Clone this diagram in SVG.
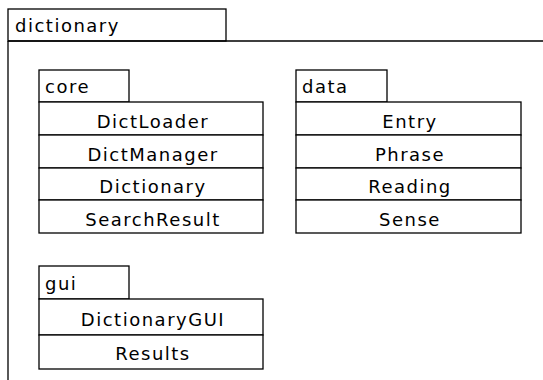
<svg xmlns="http://www.w3.org/2000/svg" width="543" height="380" viewBox="0 0 543 380">
  <style>
    .box { fill: #ffffff; stroke: #000000; stroke-width: 1.3; }
    .line { fill: none; stroke: #000000; stroke-width: 1.3; }
    text { font-family: "DejaVu Sans", "Open Sans", sans-serif; font-size: 18px; fill: #000000; letter-spacing: 1.5px; }
    .c { text-anchor: middle; }
  </style>
  <rect width="543" height="380" fill="#ffffff"/>

  <!-- outer package: dictionary -->
  <g id="pkg-dictionary">
    <rect class="box" x="8" y="9" width="218" height="32"/>
    <text x="15" y="32">dictionary</text>
    <path class="line" d="M8,41 H543 M8,41 V380"/>
  </g>

  <!-- package: core -->
  <g id="pkg-core">
    <rect class="box" x="39" y="70" width="90" height="32"/>
    <text x="45" y="93">core</text>
    <rect class="box" x="39" y="102" width="224" height="33"/>
    <text class="c" x="153" y="128">DictLoader</text>
    <rect class="box" x="39" y="135" width="224" height="33"/>
    <text class="c" x="153" y="161">DictManager</text>
    <rect class="box" x="39" y="168" width="224" height="32"/>
    <text class="c" x="153" y="193">Dictionary</text>
    <rect class="box" x="39" y="200" width="224" height="33"/>
    <text class="c" x="153" y="226">SearchResult</text>
  </g>

  <!-- package: data -->
  <g id="pkg-data">
    <rect class="box" x="296" y="70" width="91" height="32"/>
    <text x="302" y="93">data</text>
    <rect class="box" x="296" y="102" width="225" height="33"/>
    <text class="c" x="410" y="128">Entry</text>
    <rect class="box" x="296" y="135" width="225" height="33"/>
    <text class="c" x="410" y="161">Phrase</text>
    <rect class="box" x="296" y="168" width="225" height="32"/>
    <text class="c" x="410" y="193">Reading</text>
    <rect class="box" x="296" y="200" width="225" height="33"/>
    <text class="c" x="410" y="226">Sense</text>
  </g>

  <!-- package: gui -->
  <g id="pkg-gui">
    <rect class="box" x="39" y="266" width="90" height="33"/>
    <text x="45" y="290">gui</text>
    <rect class="box" x="39" y="299" width="224" height="36"/>
    <text class="c" x="153" y="326">DictionaryGUI</text>
    <rect class="box" x="39" y="335" width="224" height="34"/>
    <text class="c" x="153" y="360">Results</text>
  </g>

  <g id="connectors"></g>
</svg>
